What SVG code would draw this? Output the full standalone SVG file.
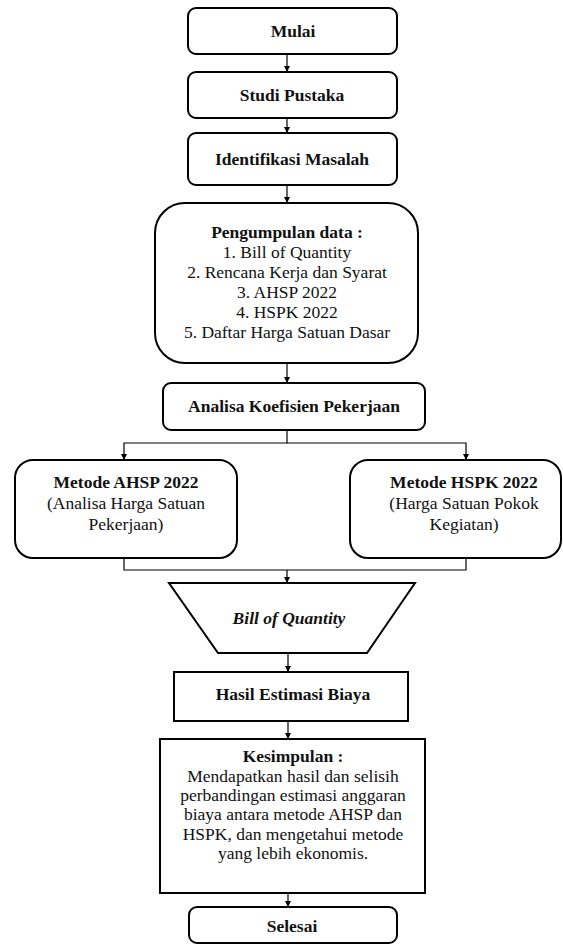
<svg xmlns="http://www.w3.org/2000/svg" width="563" height="946" viewBox="0 0 563 946" font-family="Liberation Serif, Times New Roman, serif">
<style>
.b{fill:#fff;stroke:#000;stroke-width:2}
.c{fill:none;stroke:#000;stroke-width:1.2}
text{font-family:"Liberation Serif","Times New Roman",serif;font-size:17.5px;fill:#111;text-anchor:middle}
.t{font-weight:bold}
.i{font-weight:bold;font-style:italic}
</style>
<defs>
<marker id="a" viewBox="0 0 8 8" refX="8" refY="4" markerWidth="6" markerHeight="6" orient="auto" markerUnits="userSpaceOnUse"><path d="M0,0 L8,4 L0,8 z" fill="#000"/></marker>
</defs>
<g id="connectors">
<path class="c" d="M287,54 V72" marker-end="url(#a)"/>
<path class="c" d="M287,118 V133" marker-end="url(#a)"/>
<path class="c" d="M287,185 V203" marker-end="url(#a)"/>
<path class="c" d="M287,363 V383" marker-end="url(#a)"/>
<path class="c" d="M287,430 V443 H124 V460" marker-end="url(#a)"/>
<path class="c" d="M287,443 H466 V460" marker-end="url(#a)"/>
<path class="c" d="M124,558 V570 H466 V558"/>
<path class="c" d="M287,570 V583" marker-end="url(#a)"/>
<path class="c" d="M288,653 V672" marker-end="url(#a)"/>
<path class="c" d="M288,721 V739" marker-end="url(#a)"/>
<path class="c" d="M288,893 V907" marker-end="url(#a)"/>
</g>
<g id="mulai"><rect class="b" x="188" y="8" width="209" height="46" rx="8"/><text class="t" x="293" y="37">Mulai</text></g>
<g id="studi"><rect class="b" x="188" y="72" width="209" height="46" rx="8"/><text class="t" x="292" y="101">Studi Pustaka</text></g>
<g id="identifikasi"><rect class="b" x="188" y="133" width="209" height="52" rx="8"/><text class="t" x="292" y="165">Identifikasi Masalah</text></g>
<g id="pengumpulan"><rect class="b" x="155" y="203" width="263" height="160" rx="30"/>
<text class="t" x="287" y="238">Pengumpulan data :</text>
<text x="287" y="258">1. Bill of Quantity</text>
<text x="287" y="278">2. Rencana Kerja dan Syarat</text>
<text x="287" y="298">3. AHSP 2022</text>
<text x="287" y="318">4. HSPK 2022</text>
<text x="287" y="338">5. Daftar Harga Satuan Dasar</text>
</g>
<g id="analisa"><rect class="b" x="163" y="383" width="262" height="47" rx="8"/><text class="t" x="294" y="412">Analisa Koefisien Pekerjaan</text></g>
<g id="ahsp"><rect class="b" x="15" y="460" width="222" height="98" rx="18"/>
<text class="t" x="126" y="488">Metode AHSP 2022</text>
<text x="126" y="509">(Analisa Harga Satuan</text>
<text x="126" y="530">Pekerjaan)</text>
</g>
<g id="hspk"><rect class="b" x="350" y="460" width="211" height="98" rx="18"/>
<text class="t" x="464" y="488">Metode HSPK 2022</text>
<text x="464" y="509">(Harga Satuan Pokok</text>
<text x="464" y="530">Kegiatan)</text>
</g>
<g id="boq"><path class="b" d="M169,583 H415 L367,653 H218 Z"/><text class="i" x="289" y="624">Bill of Quantity</text></g>
<g id="hasil"><rect class="b" x="174" y="672" width="234" height="49"/><text class="t" x="293" y="700">Hasil Estimasi Biaya</text></g>
<g id="kesimpulan"><rect class="b" x="160" y="739" width="265" height="154"/>
<text class="t" x="293" y="762">Kesimpulan :</text>
<text x="293" y="782">Mendapatkan hasil dan selisih</text>
<text x="293" y="801">perbandingan estimasi anggaran</text>
<text x="293" y="820">biaya antara metode AHSP dan</text>
<text x="293" y="840">HSPK, dan mengetahui metode</text>
<text x="293" y="859">yang lebih ekonomis.</text>
</g>
<g id="selesai"><rect class="b" x="189" y="907" width="208" height="36" rx="8"/><text class="t" x="292" y="932">Selesai</text></g>
</svg>
